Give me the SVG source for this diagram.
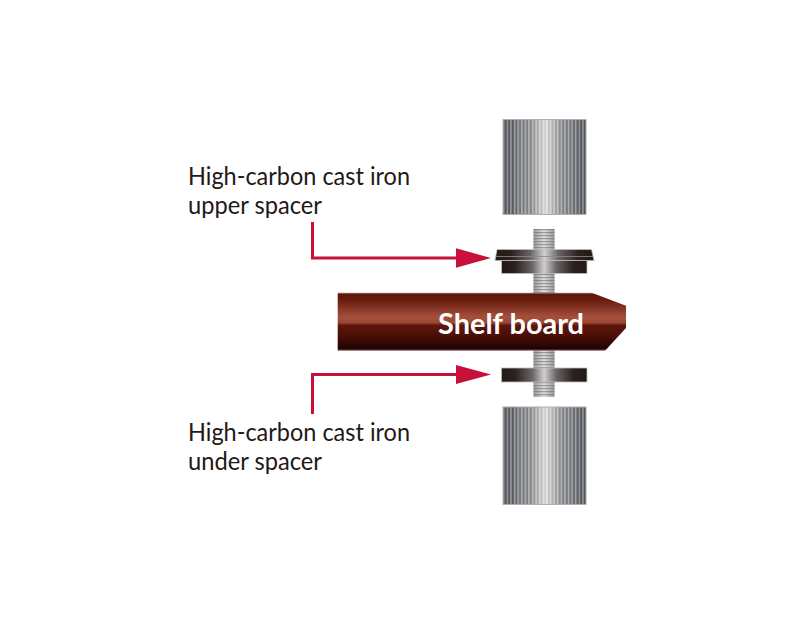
<svg xmlns="http://www.w3.org/2000/svg" width="800" height="624" viewBox="0 0 800 624">
<style>
.lbl{font-family:Lato,"Open Sans",sans-serif;font-size:24.500px;fill:#231815}
.cyl{fill:url(#cylBase);stroke:#aeaeb0;stroke-width:1}
.stripe{fill:url(#stripes)}
.thread{fill:url(#threadBase)}
.threadLines{fill:url(#threads)}
.spacer{fill:url(#spacerGrad);stroke:#bdbdbd;stroke-width:.8}
.conn{fill:none;stroke:#c8103a;stroke-width:3}
.head{fill:#c8103a}
</style>
<defs>
<linearGradient id="cylBase" x1="0" x2="1" y1="0" y2="0">
<stop offset="0" stop-color="#55595f"/><stop offset=".12" stop-color="#5f6369"/><stop offset=".2" stop-color="#7c7e83"/><stop offset=".34" stop-color="#8f9093"/><stop offset=".44" stop-color="#c2c2c3"/><stop offset=".52" stop-color="#e2e2e2"/><stop offset=".6" stop-color="#bcbcbd"/><stop offset=".7" stop-color="#8f9093"/><stop offset=".82" stop-color="#7b7d81"/><stop offset=".92" stop-color="#5c6066"/><stop offset="1" stop-color="#55595f"/>
</linearGradient>
<pattern id="stripes" patternUnits="userSpaceOnUse" x="503" y="0" width="3.6" height="10">
<rect width="1.5" height="10" fill="#fff" fill-opacity=".38"/>
<rect x="1.5" width="2.100" height="10" fill="#000" fill-opacity=".08"/>
</pattern>
<linearGradient id="threadBase" x1="0" x2="1" y1="0" y2="0">
<stop offset="0" stop-color="#999"/><stop offset=".5" stop-color="#dedede"/><stop offset="1" stop-color="#999"/>
</linearGradient>
<pattern id="threads" patternUnits="userSpaceOnUse" x="0" y="229" width="10" height="3">
<rect width="10" height="1.200" fill="#666" fill-opacity=".55"/>
</pattern>
<linearGradient id="spacerGrad" x1="0" x2="1" y1="0" y2="0">
<stop offset="0" stop-color="#231815"/><stop offset=".16" stop-color="#2a2220"/><stop offset=".36" stop-color="#6a6564"/><stop offset=".5" stop-color="#cfcfcf"/><stop offset=".64" stop-color="#6a6564"/><stop offset=".84" stop-color="#2a2220"/><stop offset="1" stop-color="#231815"/>
</linearGradient>
<linearGradient id="boardGrad" x1="0" x2="0" y1="0" y2="1">
<stop offset="0" stop-color="#b08078"/><stop offset=".03" stop-color="#5f150a"/><stop offset=".14" stop-color="#6b1e10"/><stop offset=".42" stop-color="#a5503c"/><stop offset=".52" stop-color="#9a4633"/><stop offset=".56" stop-color="#5c170c"/><stop offset=".75" stop-color="#4a0e06"/><stop offset=".97" stop-color="#1e0201"/><stop offset="1" stop-color="#8d6f6c"/>
</linearGradient>
</defs>
<rect width="800" height="624" fill="#fff"/>
<g id="top-cylinder">
<rect class="cyl" x="503" y="119.500" width="83" height="95"/>
<rect class="stripe" x="503.500" y="120" width="82" height="94"/>
</g>
<g id="bolt-upper">
<rect class="thread" x="533.500" y="229" width="21" height="66"/>
<rect class="threadLines" x="533.500" y="229" width="21" height="66"/>
</g>
<g id="upper-spacer">
<rect class="spacer" x="501.500" y="260.500" width="85.500" height="13"/>
<path class="spacer" d="M497 249.500H591.500L594 260.500H495Z"/>
<path d="M496 256.500H593" stroke="#8f8a88" stroke-width=".8" fill="none"/>
</g>
<g id="bolt-lower">
<rect class="thread" x="533.500" y="349" width="21" height="48"/>
<rect class="threadLines" x="533.500" y="349" width="21" height="48"/>
</g>
<g id="under-spacer">
<rect class="spacer" x="501.500" y="368" width="85.500" height="14"/>
</g>
<g id="bottom-cylinder">
<rect class="cyl" x="503" y="407" width="83" height="97.500"/>
<rect class="stripe" x="503.500" y="407.500" width="82" height="96.500"/>
</g>
<g id="shelf-board">
<path d="M337.700 292.700H591.700L626 305.700V328L605 350.700H337.700Z" fill="url(#boardGrad)"/>
<text x="438" y="334" font-family="Lato,'Open Sans',sans-serif" font-size="29" font-weight="700" fill="#fff" textLength="146" lengthAdjust="spacingAndGlyphs">Shelf board</text>
</g>
<g id="connectors">
<path class="conn" d="M312.500 222V258H460"/>
<path class="head" d="M456 248.300L491 258L456 267.700Z"/>
<path class="conn" d="M312.500 414V374.500H460"/>
<path class="head" d="M456 365L491 374.500L456 384Z"/>
</g>
<g id="label-upper">
<text class="lbl" x="188" y="184.500" textLength="222" lengthAdjust="spacingAndGlyphs">High-carbon cast iron</text>
<text class="lbl" x="188" y="214" textLength="134" lengthAdjust="spacingAndGlyphs">upper spacer</text>
</g>
<g id="label-under">
<text class="lbl" x="188" y="440.500" textLength="222" lengthAdjust="spacingAndGlyphs">High-carbon cast iron</text>
<text class="lbl" x="188" y="470" textLength="134" lengthAdjust="spacingAndGlyphs">under spacer</text>
</g>
</svg>
